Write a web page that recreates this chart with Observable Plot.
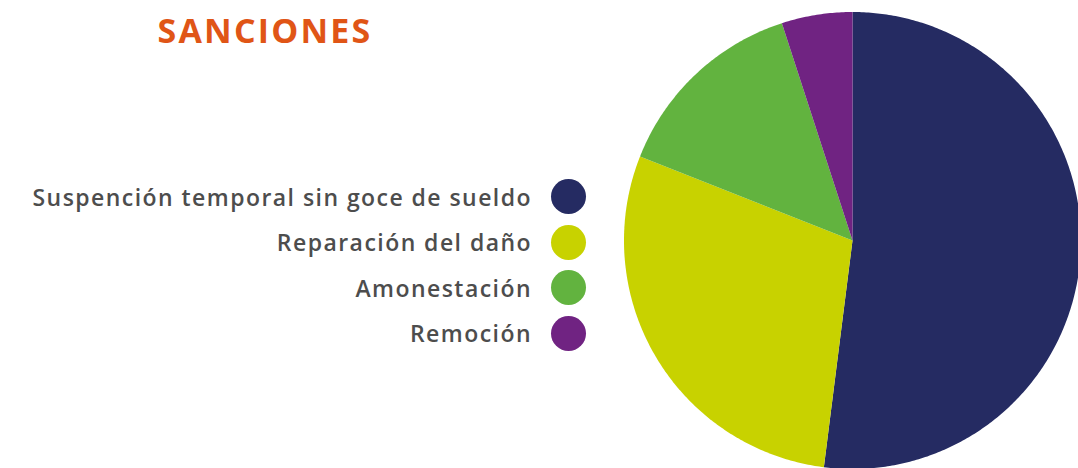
<!DOCTYPE html>
<html>
<head>
<meta charset="utf-8">
<script src="https://cdn.jsdelivr.net/npm/d3@7"></script>
<script src="https://cdn.jsdelivr.net/npm/@observablehq/plot@0.6"></script>
<style>
  html, body { margin: 0; padding: 0; background: #fff; overflow: hidden; }
  #wrap { position: relative; width: 1078px; height: 468px; }
  #chart { position: absolute; left: 0; top: 0; }
  #title { position: absolute; left: 1px; width: 528px; top: 13px; text-align: center;
    font-family: "Open Sans", sans-serif; font-weight: 700; font-size: 34px; letter-spacing: 2.2px; color: #e05516; line-height: 1; }
  #legend { position: absolute; right: 492px; top: 174px; font-family: "Open Sans", sans-serif; font-weight: 600;
    font-size: 23px; letter-spacing: 1.45px; color: #4d4d4d; }
  .row { display: flex; align-items: center; justify-content: flex-end; height: 45.5px; }
  .sw { width: 35px; height: 35px; border-radius: 50%; margin-left: 19px; }
</style>
</head>
<body>
<div id="wrap">
  <div id="chart"></div>
  <div id="title"></div>
  <div id="legend"></div>
</div>
<script>
const title = "SANCIONES";
const categories = ["Suspención temporal sin goce de sueldo", "Reparación del daño", "Amonestación", "Remoción"];
const values = [52, 29, 14, 5];
const colors = ["#252b62", "#c8d200", "#62b33f", "#702382"];

const data = categories.map((name, i) => ({name, value: values[i]}));
const arcs = d3.pie().value(d => d.value).sort(null).startAngle(0).endAngle(2 * Math.PI)(data);

const pts = [];
for (const a of arcs) {
  const name = a.data.name;
  pts.push({name, x: 0, y: 0});
  const n = Math.max(2, Math.ceil((a.endAngle - a.startAngle) / 0.01));
  for (let k = 0; k <= n; k++) {
    const t = a.startAngle + (a.endAngle - a.startAngle) * k / n;
    pts.push({name, x: Math.sin(t), y: Math.cos(t)});
  }
}

const cx = 852, cy = 240, r = 228.5;
const chart = Plot.plot({
  width: 1078,
  height: 468,
  margin: 0,
  x: {domain: [-1, 1], range: [cx - r, cx + r], axis: null},
  y: {domain: [-1, 1], range: [cy + r, cy - r], axis: null},
  color: {domain: categories, range: colors},
  marks: [
    Plot.line(pts, {x: "x", y: "y", z: "name", fill: "name", stroke: "none", curve: "linear"})
  ]
});
document.getElementById("chart").appendChild(chart);

document.getElementById("title").textContent = title;
const legend = document.getElementById("legend");
categories.forEach((c, i) => {
  const row = document.createElement("div");
  row.className = "row";
  const lab = document.createElement("span");
  lab.textContent = c;
  const sw = document.createElement("span");
  sw.className = "sw";
  sw.style.background = colors[i];
  row.appendChild(lab);
  row.appendChild(sw);
  legend.appendChild(row);
});
</script>
</body>
</html>
